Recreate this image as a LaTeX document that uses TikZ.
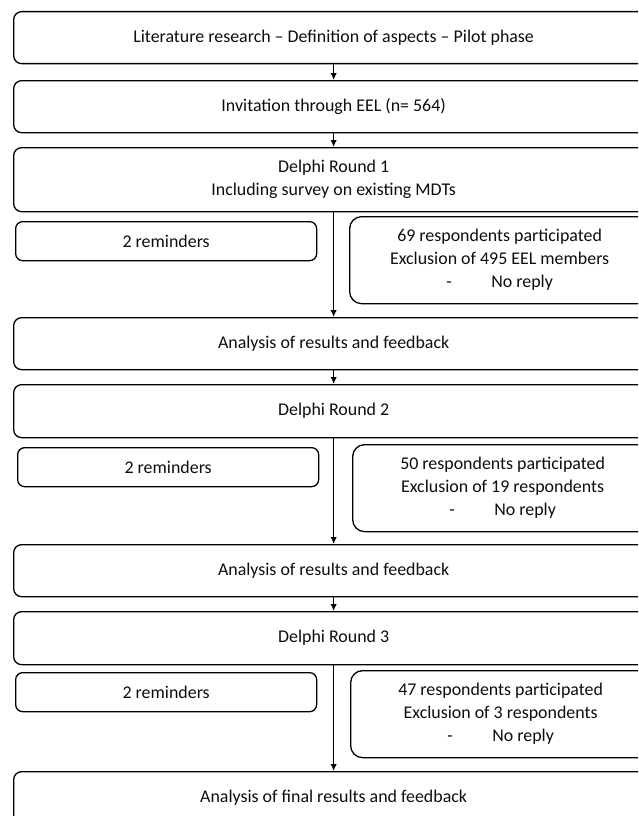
\documentclass[tikz,border=0pt]{standalone}
\usepackage{fontspec}
\setmainfont{Carlito}
\usetikzlibrary{arrows.meta}
\begin{document}
\begin{tikzpicture}[x=1pt,y=-1pt,
  every node/.style={font=\fontsize{17.9}{23}\selectfont, text=black!95, align=center, inner sep=0pt},
  bigbox/.style={draw, line width=1.3pt, rounded corners=8pt, minimum width=640pt, anchor=north west},
  smallbox/.style={draw, line width=1.3pt, rounded corners=7pt, minimum width=301pt, minimum height=39pt, anchor=north west},
  infobox/.style={draw, line width=1.3pt, rounded corners=12pt, minimum width=300pt, minimum height=87pt, anchor=north west},
  arr/.style={line width=1.3pt, -{Latex[length=7pt,width=6.5pt]}}]
\useasboundingbox (0,0) rectangle (638,816);
\clip (0,0) rectangle (638,816);
\node[bigbox, minimum height=52pt] (b1) at (13,11) {Literature research -- Definition of aspects -- Pilot phase};
\node[bigbox, minimum height=52pt] (b2) at (13,80) {Invitation through EEL (n= 564)};
\node[bigbox, minimum height=64pt] (b3) at (13,147) {Delphi Round 1\\Including survey on existing MDTs};
\node[smallbox] (r1) at (15,221) {2 reminders};
\node[infobox] (p1) at (349,216) {69 respondents participated\\Exclusion of 495 EEL members\\-\hspace{2.2em}No reply};
\node[bigbox, minimum height=52pt] (b4) at (13,317) {Analysis of results and feedback};
\node[bigbox, minimum height=53pt] (b5) at (13,384) {Delphi Round 2};
\node[smallbox] (r2) at (17,447) {2 reminders};
\node[infobox] (p2) at (352,444) {50 respondents participated\\Exclusion of 19 respondents\\-\hspace{2.2em}No reply};
\node[bigbox, minimum height=52pt] (b6) at (13,544) {Analysis of results and feedback};
\node[bigbox, minimum height=53pt] (b7) at (13,611) {Delphi Round 3};
\node[smallbox] (r3) at (15,672) {2 reminders};
\node[infobox] (p3) at (350,670) {47 respondents participated\\Exclusion of 3 respondents\\-\hspace{2.2em}No reply};
\node[bigbox, minimum height=52pt] (b8) at (13,771) {Analysis of final results and feedback};
\draw[arr] (b1.south) -- (b2.north);
\draw[arr] (b2.south) -- (b3.north);
\draw[arr] (b3.south) -- (b4.north);
\draw[arr] (b4.south) -- (b5.north);
\draw[arr] (b5.south) -- (b6.north);
\draw[arr] (b6.south) -- (b7.north);
\draw[arr] (b7.south) -- (b8.north);
\end{tikzpicture}
\end{document}
